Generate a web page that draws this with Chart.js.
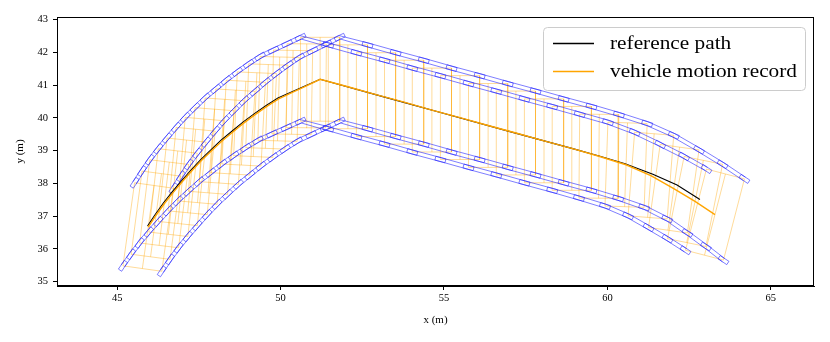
<!DOCTYPE html>
<html>
<head>
<meta charset="utf-8">
<script src="https://cdn.jsdelivr.net/npm/chart.js@4.4.1/dist/chart.umd.min.js"></script>
<style>
  html, body { margin: 0; padding: 0; background: #fff; }
</style>
</head>
<body>
<canvas id="chart" width="830" height="342"></canvas>
<script>
// vehicle centre record (m)
const motionX = [45.95, 46.19, 46.44, 46.71, 46.99, 47.28, 47.57, 47.88, 48.20, 48.54, 48.87, 49.22, 49.58, 49.94,
  50.36, 50.79, 51.21,
  52.06, 52.92, 53.78, 54.63, 55.49, 56.35, 57.20, 58.06, 58.91, 59.74,
  60.57, 61.33, 62.03, 62.68, 63.29];
const motionY = [36.67, 37.03, 37.38, 37.72, 38.05, 38.38, 38.69, 38.99, 39.29, 39.57, 39.84, 40.10, 40.35, 40.58,
  40.78, 40.98, 41.18,
  40.95, 40.71, 40.48, 40.24, 40.01, 39.77, 39.54, 39.30, 39.07, 38.83,
  38.57, 38.24, 37.84, 37.45, 37.05];
// orientation of the drawn body outline (deg)
const bodyYaw = [82, 82.5, 83, 83.5, 84, 84.5, 85, 85.5, 86, 86.5, 87, 87.5, 88, 88.5,
  89, 89.5, 90,
  90, 90, 90, 90, 90, 90, 90, 90, 90, 89.5,
  88, 85.5, 82, 78.5, 75.5];

// reference path (m)
const refX = [45.93, 46.17, 46.42, 46.69, 46.97, 47.26, 47.55, 47.86, 48.18, 48.52, 48.85, 49.20, 49.56, 49.92,
  51.21, 53.13, 55.06, 56.99, 58.91, 59.77, 60.54, 61.39, 62.13, 62.83];
const refY = [36.70, 37.06, 37.41, 37.75, 38.08, 38.41, 38.72, 39.02, 39.32, 39.60, 39.87, 40.13, 40.38, 40.61,
  41.18, 40.65, 40.12, 39.59, 39.07, 38.83, 38.60, 38.28, 37.95, 37.51];

const xTicks = [45, 50, 55, 60, 65];
const yTicks = [35, 36, 37, 38, 39, 40, 41, 42, 43];
const seriesLabels = ['reference path', 'vehicle motion record'];

// vehicle geometry (m)
const HALF_LEN = 1.28, HALF_WID = 0.6;
const WHEEL_LEN = 0.32, WHEEL_WID = 0.12;

function rect(cx, cy, ang, hl, hw) {
    const c = Math.cos(ang), s = Math.sin(ang);
    return [[hl, hw], [hl, -hw], [-hl, -hw], [-hl, hw], [hl, hw]]
        .map(([a, b]) => ({ x: cx + a * c - b * s, y: cy + a * s + b * c }));
}

const bodyPts = [];
const wheelPts = [];
const tracks = [[], [], [], [], [], [], [], []];
for (let i = 0; i < motionX.length; i++) {
    const j = i > 0 ? i - 1 : 0, k = i > 0 ? i : 1;
    const heading = Math.atan2(motionY[k] - motionY[j], motionX[k] - motionX[j]);
    const yaw = bodyYaw[i] * Math.PI / 180;
    const body = rect(motionX[i], motionY[i], yaw, HALF_LEN, HALF_WID);
    bodyPts.push(...body, { x: motionX[i], y: null });
    // centre line of the body
    bodyPts.push({ x: motionX[i] - HALF_LEN * Math.cos(yaw), y: motionY[i] - HALF_LEN * Math.sin(yaw) },
                 { x: motionX[i] + HALF_LEN * Math.cos(yaw), y: motionY[i] + HALF_LEN * Math.sin(yaw) },
                 { x: motionX[i], y: null });
    const nx = -Math.sin(heading) * WHEEL_WID / 2, ny = Math.cos(heading) * WHEEL_WID / 2;
    for (let w = 0; w < 4; w++) {
        wheelPts.push(...rect(body[w].x, body[w].y, heading, WHEEL_LEN / 2, WHEEL_WID / 2), { x: body[w].x, y: null });
        tracks[2 * w].push({ x: body[w].x + nx, y: body[w].y + ny });
        tracks[2 * w + 1].push({ x: body[w].x - nx, y: body[w].y - ny });
    }
}
tracks.forEach(t => wheelPts.push(...t, { x: t[0].x, y: null }));

const serif = "'Liberation Serif', 'DejaVu Serif', serif";

// full frame + legend box, matplotlib style
const framePlugin = {
    id: 'frame',
    afterDraw(chart) {
        const { ctx, chartArea: a } = chart;
        ctx.save();
        ctx.strokeStyle = '#000';
        ctx.lineWidth = 1;
        ctx.strokeRect(a.left + 0.5, a.top + 0.5, a.right - a.left - 1, a.bottom - a.top - 1);

        // legend
        const bx = 543.5, by = 27.5, bw = 262, bh = 63;
        ctx.fillStyle = 'rgba(255,255,255,0.8)';
        ctx.strokeStyle = '#cccccc';
        ctx.beginPath();
        ctx.roundRect(bx, by, bw, bh, 4);
        ctx.fill();
        ctx.stroke();

        const colors = ['#000000', '#ffa500'];
        const rows = [43.5, 71.5];
        ctx.font = '18px ' + serif;
        const sx = 187 / ctx.measureText(seriesLabels[1]).width;
        seriesLabels.forEach((lab, i) => {
            ctx.strokeStyle = colors[i];
            ctx.lineWidth = 1.3;
            ctx.beginPath();
            ctx.moveTo(553, rows[i]);
            ctx.lineTo(594, rows[i]);
            ctx.stroke();
            ctx.save();
            ctx.translate(610, rows[i] + 1);
            ctx.scale(sx, 1);
            ctx.fillStyle = '#000';
            ctx.textBaseline = 'middle';
            ctx.fillText(lab, 0, 0);
            ctx.restore();
        });
        ctx.restore();
    }
};

new Chart(document.getElementById('chart'), {
    type: 'scatter',
    data: {
        datasets: [
            { label: 'outline', order: 3, data: bodyPts, showLine: true, borderColor: 'rgba(255,165,0,0.5)', borderWidth: 0.8, pointRadius: 0, spanGaps: false },
            { label: 'wheels', order: 2, data: wheelPts, showLine: true, borderColor: 'rgba(30,30,255,0.72)', borderWidth: 0.8, pointRadius: 0, spanGaps: false },
            { label: seriesLabels[0], order: 1, data: refX.map((x, i) => ({ x, y: refY[i] })), showLine: true, borderColor: '#000', borderWidth: 1.1, pointRadius: 0 },
            { label: seriesLabels[1], order: 0, data: motionX.map((x, i) => ({ x, y: motionY[i] })), showLine: true, borderColor: '#ffa500', borderWidth: 1.4, pointRadius: 0 }
        ]
    },
    options: {
        responsive: false,
        animation: false,
        events: [],
        layout: { padding: { left: 0, right: 16, top: 17, bottom: 0 } },
        plugins: { legend: { display: false }, tooltip: { enabled: false } },
        scales: {
            x: {
                type: 'linear',
                min: 43.16, max: 66.32,
                afterBuildTicks: s => { s.ticks = xTicks.map(v => ({ value: v })); },
                afterFit: s => { s.height = 56; },
                grid: { drawOnChartArea: false, drawTicks: true, tickLength: 4, color: '#000' },
                border: { display: true, color: '#000' },
                ticks: { color: '#000', padding: 2, maxRotation: 0, font: { family: serif, size: 10.5 } },
                title: { display: true, text: 'x (m)', color: '#000', font: { family: serif, size: 11 }, padding: { top: 0, bottom: 15 } }
            },
            y: {
                type: 'linear',
                min: 34.87, max: 43.08,
                afterBuildTicks: s => { s.ticks = yTicks.map(v => ({ value: v })); },
                afterFit: s => { s.width = 57; },
                grid: { drawOnChartArea: false, drawTicks: true, tickLength: 4, color: '#000' },
                border: { display: true, color: '#000' },
                ticks: { color: '#000', padding: 5, font: { family: serif, size: 10.5 } },
                title: { display: true, text: 'y (m)', color: '#000', font: { family: serif, size: 11 }, padding: { top: 14, bottom: 0 } }
            }
        }
    },
    plugins: [framePlugin]
});
</script>
</body>
</html>
